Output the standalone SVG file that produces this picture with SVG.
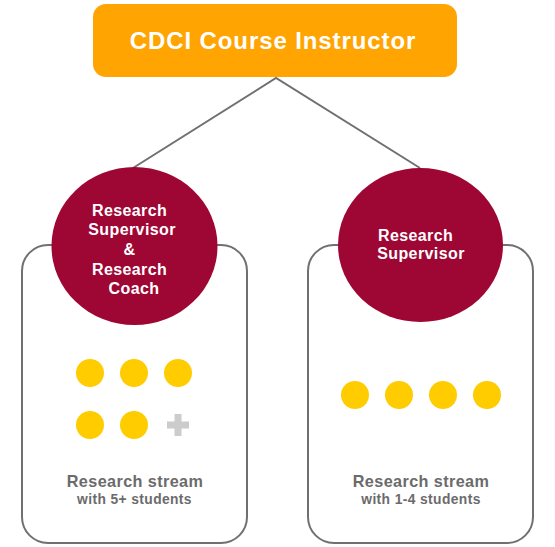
<svg xmlns="http://www.w3.org/2000/svg" width="555" height="547" viewBox="0 0 555 547">
<style>
.box{fill:#fff;stroke:#707070;stroke-width:2}
.conn{stroke:#707070;stroke-width:2;fill:none}
.circ{fill:#9E0634}
.dot{fill:#FFCC00}
.wt{fill:#fff;font-family:"Liberation Sans",Arial,sans-serif;font-weight:bold;text-anchor:middle}
.gt{fill:#6b6b6b;font-family:"Liberation Sans",Arial,sans-serif;font-weight:bold;text-anchor:middle}
</style>
<rect width="555" height="547" fill="#fff"/>
<g id="connectors">
<polyline class="conn" points="133,168 276,78 420,168"/>
</g>
<g id="left-stream">
<rect class="box" x="22" y="245" width="225" height="298" rx="26"/>
<circle class="dot" cx="90" cy="373" r="14"/>
<circle class="dot" cx="134" cy="373" r="14"/>
<circle class="dot" cx="178" cy="373" r="14"/>
<circle class="dot" cx="90" cy="425" r="14"/>
<circle class="dot" cx="134" cy="425" r="14"/>
<path d="M167,425H189M178,414V436" stroke="#cccccc" stroke-width="7"/>
<text class="gt" x="135" y="487" font-size="16.2" letter-spacing="0.4">Research stream</text>
<text class="gt" x="134.5" y="504" font-size="13.8" letter-spacing="0.4">with 5+ students</text>
</g>
<g id="right-stream">
<rect class="box" x="308" y="245" width="225" height="298" rx="26"/>
<circle class="dot" cx="355" cy="395" r="14"/>
<circle class="dot" cx="399" cy="395" r="14"/>
<circle class="dot" cx="443" cy="395" r="14"/>
<circle class="dot" cx="487" cy="395" r="14"/>
<text class="gt" x="421" y="487" font-size="16.2" letter-spacing="0.4">Research stream</text>
<text class="gt" x="421" y="504" font-size="13.8" letter-spacing="0.4">with 1-4 students</text>
</g>
<g id="instructor">
<rect x="93" y="4" width="364" height="73" rx="13" fill="#FFA400"/>
<text class="wt" x="273" y="49" font-size="24" letter-spacing="0.9">CDCI Course Instructor</text>
</g>
<g id="supervisor-coach">
<ellipse class="circ" cx="134.5" cy="246" rx="83" ry="79"/>
<text class="wt" font-size="16" letter-spacing="0.4">
<tspan x="132" y="216">Research</tspan>
<tspan x="134.5" y="235">Supervisor</tspan>
<tspan x="132" y="255">&amp;</tspan>
<tspan x="132" y="275">Research</tspan>
<tspan x="134" y="294">Coach</tspan>
</text>
</g>
<g id="supervisor">
<ellipse class="circ" cx="420.5" cy="245" rx="82.5" ry="77"/>
<text class="wt" font-size="16" letter-spacing="0.4">
<tspan x="418" y="241">Research</tspan>
<tspan x="421" y="259">Supervisor</tspan>
</text>
</g>
</svg>
